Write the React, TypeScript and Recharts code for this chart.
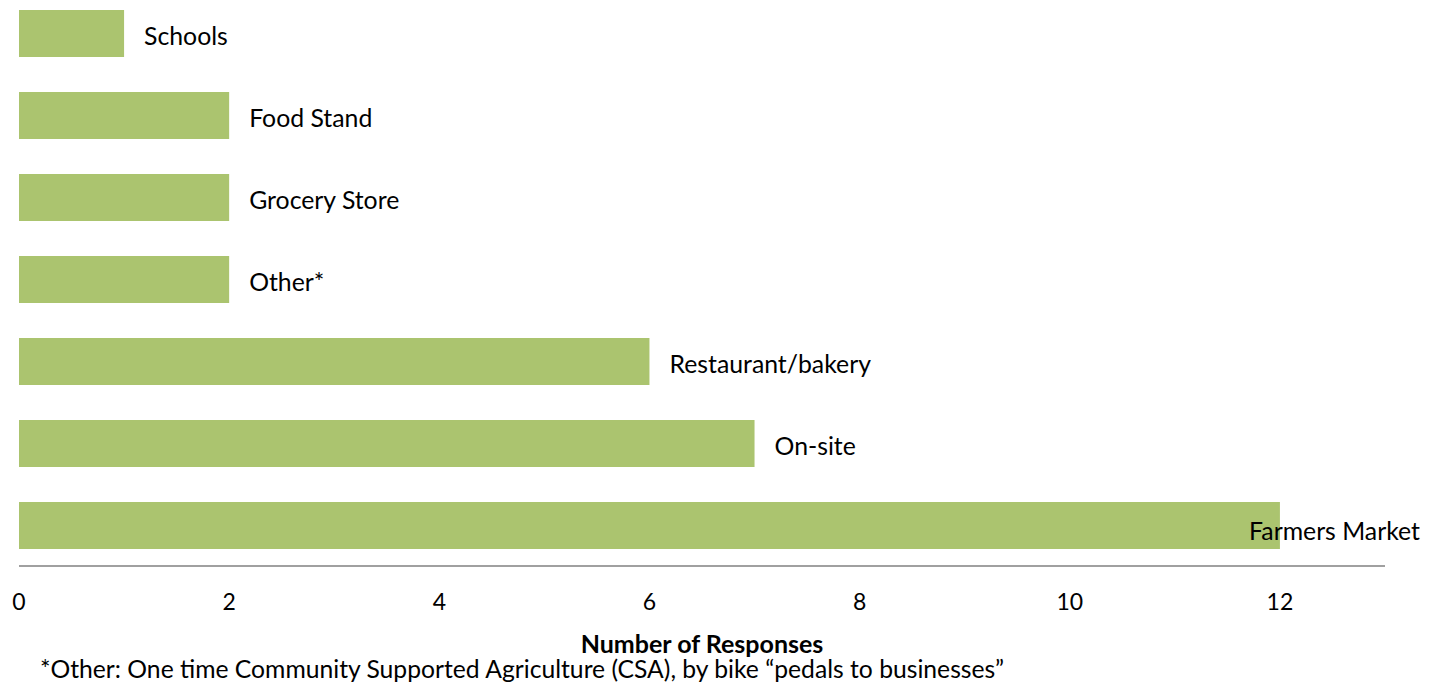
import React from "react";
import { BarChart, Bar, XAxis, YAxis, LabelList } from "recharts";

const categories = ["Schools", "Food Stand", "Grocery Store", "Other*", "Restaurant/bakery", "On-site", "Farmers Market"];
const responses = [1, 2, 2, 2, 6, 7, 12];
const xTicks = [0, 2, 4, 6, 8, 10, 12];
const axisTitle = "Number of Responses";
const footnote = "*Other: One time Community Supported Agriculture (CSA), by bike \u201cpedals to businesses\u201d";

const data = categories.map((name, i) => ({ name, value: responses[i] }));

const W = 1439;
const H = 702;
const FONT = "Lato, 'Open Sans', sans-serif";
const BAR_COLOR = "#ABC46F";

const BarLabel = (props: any) => {
  const { x, y, width, height, value } = props;
  const end = x + width + 20;
  const est = String(value).length * 12;
  const clamp = end + est > W - 15;
  return (
    <text
      x={clamp ? W - 19 : end}
      y={y + height / 2 + (clamp ? 5 : 2)}
      textAnchor={clamp ? "end" : "start"}
      dominantBaseline="central"
      fontFamily={FONT}
      fontSize={24.8}
      fill="#000"
    >
      {value}
    </text>
  );
};

const AxisTitle = (props: any) => {
  const { viewBox } = props;
  const { x, y, width } = viewBox;
  return (
    <g>
      <text x={x + width / 2} y={y + 77} textAnchor="middle" dominantBaseline="central" fontFamily={FONT} fontWeight="bold" fontSize={25} fill="#000">
        {axisTitle}
      </text>
      <text x={40} y={y + 102} textAnchor="start" dominantBaseline="central" fontFamily={FONT} fontSize={24.7} fill="#000">
        {footnote}
      </text>
    </g>
  );
};

export default function App() {
  return (
    <div style={{ position: "absolute", left: 0, top: -16, width: W, height: H, background: "#fff" }}>
      <BarChart
        width={W}
        height={H}
        data={data}
        layout="vertical"
        margin={{ top: 8, left: 19, right: 54, bottom: 60 }}
      >
        <XAxis
          type="number"
          domain={[0, 13]}
          ticks={xTicks}
          allowDataOverflow
          tickLine={false}
          axisLine={{ stroke: "#A0A0A0", strokeWidth: 2 }}
          height={60}
          tickMargin={22}
          tick={{ fontFamily: FONT, fontSize: 23, fill: "#000" }}
          label={<AxisTitle />}
        />
        <YAxis type="category" dataKey="name" hide />
        <Bar dataKey="value" fill={BAR_COLOR} barSize={47} isAnimationActive={false}>
          <LabelList dataKey="name" content={<BarLabel />} />
        </Bar>
      </BarChart>
    </div>
  );
}
